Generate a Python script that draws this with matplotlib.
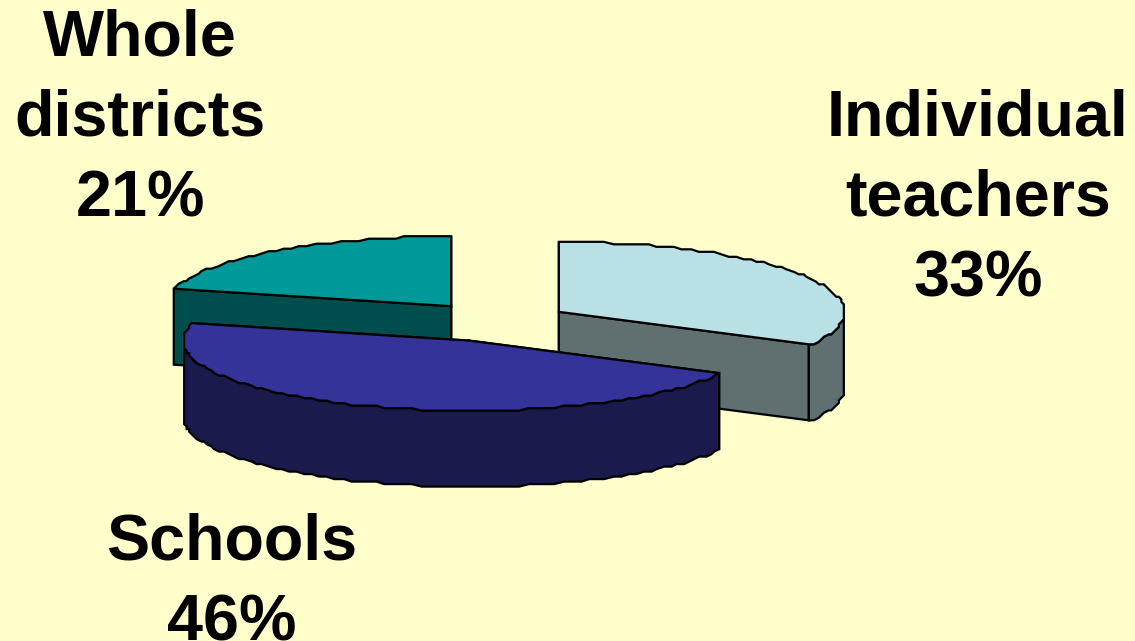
import numpy as np
import matplotlib
matplotlib.use('Agg')
import matplotlib.pyplot as plt

# slices, clockwise from 12 o'clock
labels = ['Individual\nteachers', 'Schools', 'Whole\ndistricts']
shares = [33, 46, 21]
top_colors = ['#B8E0E5', '#333399', '#009999']
side_colors = ['#607070', '#1A1A4D', '#004D4D']

label_pos = [(978, 199), (232, 583), (140, 119)]
draw_order = [2, 0, 1]

# pie geometry in pixels
cx, cy = 496, 322
rx, ry = 286, 70
depth = 76
explode_x, explode_y = 73, 20
snap = 2.5   # the original outline is stepped, not a clean curve


def ell(t, x0, y0):
    # snap the rim to a coarse grid to get the stepped look
    x = x0 + np.round(rx*np.sin(t)/snap)*snap
    y = y0 - np.round(ry*np.cos(t)/snap)*snap
    return x, y


def draw_slice(ax, t0, t1, top_col, side_col):
    mid = (t0 + t1)/2
    x0 = cx + explode_x*np.sin(mid)
    y0 = cy - explode_y*np.cos(mid)
    n = max(int((t1 - t0)/(2*np.pi)*200), 2)
    t = np.linspace(t0, t1, n)
    ex, ey = ell(t, x0, y0)

    # cut faces from the centre out to each end of the arc
    for a in sorted([t0, t1], key=lambda v: np.cos(v), reverse=True):
        px, py = ell(np.array(a), x0, y0)
        ax.fill([x0, px, px, x0], [y0, py, py + depth, y0 + depth],
                facecolor=side_col, edgecolor='black', lw=1.6, zorder=2)

    # outer rim, only the part facing the viewer
    front = (t > np.pi/2) & (t < 3*np.pi/2)
    if front.any():
        fx, fy = ex[front], ey[front]
        ax.fill(np.r_[fx, fx[::-1]], np.r_[fy, fy[::-1] + depth],
                facecolor=side_col, edgecolor='black', lw=1.6, zorder=2)

    ax.fill(np.r_[x0, ex], np.r_[y0, ey], facecolor=top_col,
            edgecolor='black', lw=1.6, zorder=2)


fig = plt.figure(figsize=(11.35, 6.41), dpi=100, facecolor='#FFFFCC')
ax = fig.add_axes([0, 0, 1, 1])
ax.set_xlim(0, 1135)
ax.set_ylim(641, 0)
ax.axis('off')

edges = np.cumsum([0] + shares)/sum(shares)*2*np.pi
for i in draw_order:
    draw_slice(ax, edges[i], edges[i+1], top_colors[i], side_colors[i])

for name, val, (x, y) in zip(labels, shares, label_pos):
    ax.text(x, y, name + '\n' + str(val) + '%', ha='center', va='center',
            family='Liberation Sans', weight='bold', fontsize=46.5,
            linespacing=1.44, color='black', zorder=5)

fig.savefig('out.png', dpi=100, facecolor=fig.get_facecolor())
